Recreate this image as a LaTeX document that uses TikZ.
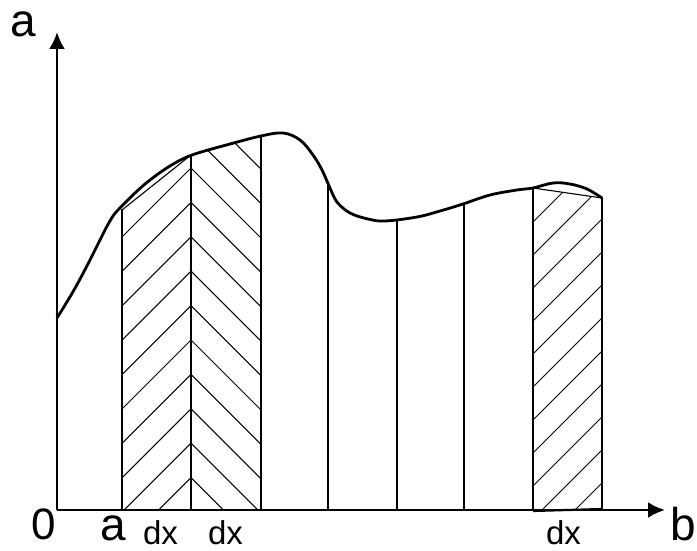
\documentclass[tikz,border=0pt]{standalone}
\usepackage{fontspec}
\setmainfont{Liberation Sans}
\usetikzlibrary{arrows.meta}
\begin{document}
\begin{tikzpicture}[x=1pt,y=-1pt,
  axis/.style={line width=2.8pt,-{Latex[length=17pt,width=16pt]}},
  curve/.style={line width=2.8pt,line join=round,line cap=round},
  thin/.style={line width=1.1pt},
  hatch/.style={line width=1pt},
  lbl/.style={inner sep=0pt,anchor=base}]
\useasboundingbox (0,0) rectangle (697,551);
% axes
\coordinate (O) at (57,510);
\coordinate (Xend) at (665,510);
\coordinate (Yend) at (57,32);
\draw[axis] (O) -- (Xend);
\draw[axis] (O) -- (Yend);
% hatch left (/)
\begin{scope}
  \clip (122,210) -- (191,155) -- (191,510) -- (122,510) -- cycle;
  \foreach \n in {0,...,10}
    \draw[hatch] (100,{359+34.4*\n-100}) -- (250,{359+34.4*\n-250});
\end{scope}
% hatch middle (\)
\begin{scope}
  \clip (191,155) -- (261,136) -- (261,510) -- (191,510) -- cycle;
  \foreach \n in {-3,...,10}
    \draw[hatch] (191,{168+34.4*\n}) -- (300,{168+34.4*\n+109});
\end{scope}
% hatch right (/)
\begin{scope}
  \clip (533,188) -- (602,198) -- (602,510) -- (533,510) -- cycle;
  \foreach \n in {0,...,11}
    \draw[hatch] (500,{755+33*\n-500}) -- (650,{755+33*\n-650});
\end{scope}
% chords
\draw[thin] (122,210) -- (191,155) -- (261,136);
\draw[thin] (533,188) -- (602,198);
% verticals
\foreach \x/\y in {122/209,191/155,261/136,328/182,397/220,464/204}
  \draw[thin] (\x,\y) -- (\x,510);
\draw[line width=1.8pt] (533,188) -- (533,510);
\draw[line width=1.8pt] (602,198) -- (602,510);
\draw[line width=2.2pt] (533,511) -- (602,509);
% curve
\draw[curve] plot[smooth,tension=0.6] coordinates {(57,318) (74,290) (90,260) (105,230) (113,216) (118,210)};
\draw[curve] plot[smooth,tension=0.6] coordinates {(118,210) (135,193) (150,180) (170,166) (192,155) (230,144) (261,136) (283,133) (300,140) (313,155) (322,170) (330,188) (337,202) (350,213) (368,219) (385,221) (417,217) (440,211) (463,204) (490,195) (517,190) (533,188) (553,183) (570,184) (587,189) (602,198)};
% labels
\node[lbl,font=\fontsize{46}{46}\selectfont] (ya) at (23.5,37) {a};
\node[lbl,font=\fontsize{44}{44}\selectfont] (zero) at (43.5,539) {0};
\node[lbl,font=\fontsize{46}{46}\selectfont] (xa) at (113,540) {a};
\node[lbl,font=\fontsize{33}{33}\selectfont] (dx1) at (160.5,544) {dx};
\node[lbl,font=\fontsize{33}{33}\selectfont] (dx2) at (225.5,544) {dx};
\node[lbl,font=\fontsize{33}{33}\selectfont] (dx3) at (563.5,544) {dx};
\node[lbl,font=\fontsize{46}{46}\selectfont] (xb) at (683,540) {b};
\end{tikzpicture}
\end{document}
